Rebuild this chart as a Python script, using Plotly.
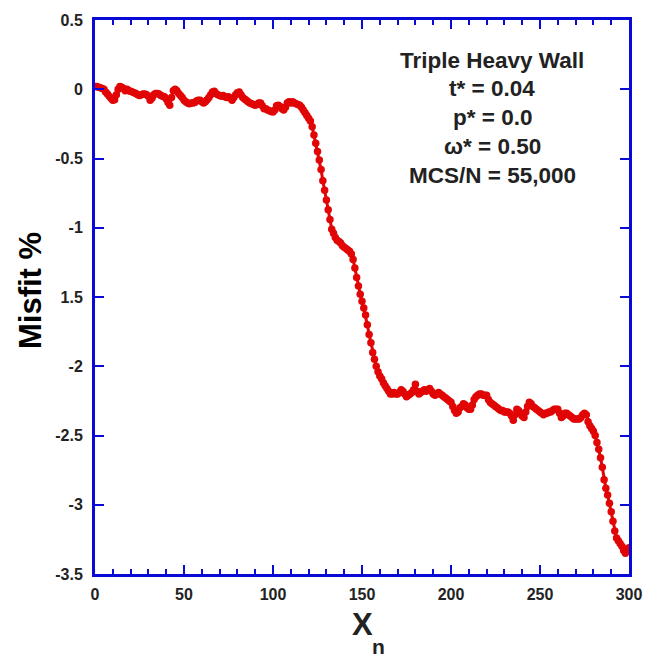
import plotly.graph_objects as go

# Data (x = 0..300 step 1)
x_values = list(range(0, 301))
misfit = [
    0.02, 0.02, 0.015, 0.01, 0.005, 0.0, -0.02, -0.035, -0.05, -0.065,
    -0.08, -0.075, -0.04, 0.0, 0.02, 0.015, 0.005, -0.01, 0.0, -0.01,
    -0.015, -0.02, -0.025, -0.03, -0.04, -0.045, -0.04, -0.035, -0.035, -0.04,
    -0.05, -0.08, -0.065, -0.04, -0.03, -0.03, -0.035, -0.045, -0.05, -0.055,
    -0.07, -0.095, -0.115, -0.06, -0.01, 0.0, -0.01, -0.03, -0.045, -0.06,
    -0.08, -0.09, -0.1, -0.105, -0.1, -0.1, -0.095, -0.085, -0.08, -0.08,
    -0.09, -0.1, -0.09, -0.075, -0.06, -0.04, -0.02, -0.015, -0.03, -0.04,
    -0.045, -0.05, -0.045, -0.055, -0.06, -0.055, -0.065, -0.08, -0.06, -0.04,
    -0.025, -0.02, -0.04, -0.06, -0.07, -0.08, -0.09, -0.1, -0.105, -0.11,
    -0.115, -0.11, -0.1, -0.1, -0.12, -0.14, -0.14, -0.15, -0.155, -0.16,
    -0.165, -0.15, -0.12, -0.115, -0.125, -0.14, -0.15, -0.13, -0.1, -0.09,
    -0.1, -0.09, -0.1, -0.105, -0.11, -0.115, -0.13, -0.15, -0.17, -0.19,
    -0.21, -0.23, -0.27, -0.33, -0.39, -0.45, -0.51, -0.58, -0.66, -0.73,
    -0.8, -0.87, -0.94, -1.01, -1.04, -1.07, -1.09, -1.1, -1.11, -1.13,
    -1.14, -1.15, -1.16, -1.17, -1.19, -1.23, -1.29, -1.36, -1.42, -1.48,
    -1.53, -1.58, -1.63, -1.70, -1.77, -1.83, -1.90, -1.95, -2.0, -2.04,
    -2.07, -2.09, -2.12, -2.14, -2.16, -2.18, -2.2, -2.2, -2.19, -2.2,
    -2.2, -2.19, -2.17, -2.18, -2.2, -2.22, -2.21, -2.2, -2.19, -2.17,
    -2.13, -2.18, -2.2, -2.19, -2.18, -2.17, -2.18, -2.17, -2.16, -2.18,
    -2.2, -2.21, -2.2, -2.19, -2.2, -2.21, -2.22, -2.23, -2.24, -2.25,
    -2.26, -2.29, -2.32, -2.34, -2.33, -2.3, -2.29, -2.27, -2.28, -2.3,
    -2.31, -2.31, -2.28, -2.24, -2.22, -2.21, -2.2, -2.2, -2.21, -2.21,
    -2.21, -2.24, -2.26, -2.27, -2.28, -2.29, -2.3, -2.31, -2.32, -2.32,
    -2.33, -2.33, -2.33, -2.34, -2.36, -2.39, -2.35, -2.31, -2.32, -2.34,
    -2.36, -2.37, -2.33, -2.29, -2.26, -2.27, -2.29, -2.3, -2.31, -2.32,
    -2.33, -2.34, -2.35, -2.34, -2.34, -2.33, -2.33, -2.32, -2.31, -2.31,
    -2.31, -2.34, -2.37, -2.36, -2.34, -2.34, -2.35, -2.36, -2.37, -2.38,
    -2.38, -2.38, -2.38, -2.37, -2.35, -2.34, -2.35, -2.4, -2.43, -2.45,
    -2.47, -2.5, -2.55, -2.6, -2.66, -2.73, -2.82, -2.88, -2.93, -2.99,
    -3.05, -3.12, -3.19, -3.24, -3.26, -3.28, -3.3, -3.33, -3.35, -3.32,
    -3.31,
]

x_tick_vals = [0, 50, 100, 150, 200, 250, 300]
x_tick_text = ["0", "50", "100", "150", "200", "250", "300"]
y_tick_vals = [0.5, 0, -0.5, -1, -1.5, -2, -2.5, -3, -3.5]
y_tick_text = ["0.5", "0", "-0.5", "-1", "1.5", "-2", "-2.5", "-3", "-3.5"]

info_lines = ["Triple Heavy Wall", "t* = 0.04", "p* = 0.0", "\u03c9* = 0.50", "MCS/N = 55,000"]

AXIS_BLUE = "rgb(10,10,215)"
RED = "rgb(225,5,5)"
TXT = "#222222"
FONT = "Liberation Sans, Arial, sans-serif"

fig = go.Figure()
fig.add_trace(go.Scatter(
    x=x_values, y=misfit, mode="lines+markers",
    line=dict(color=RED, width=3),
    marker=dict(color=RED, size=7.5),
    showlegend=False,
))

fig.update_layout(
    width=656, height=658,
    margin=dict(l=95, r=27, t=16, b=84),
    paper_bgcolor="white", plot_bgcolor="white",
    font=dict(family=FONT, color=TXT),
)

fig.update_xaxes(
    range=[0, 300], showgrid=False, zeroline=False,
    showline=True, linecolor=AXIS_BLUE, linewidth=3, mirror="allticks",
    ticks="inside", ticklen=9, tickwidth=1.5, tickcolor=AXIS_BLUE,
    tickvals=x_tick_vals, ticktext=x_tick_text,
    tickfont=dict(family=FONT, size=16, color=TXT, weight="bold"),
    ticklabelstandoff=4,
    minor=dict(dtick=10, tick0=0, ticks="inside", ticklen=5, tickwidth=1.5,
               tickcolor=AXIS_BLUE, showgrid=False),
)
fig.update_yaxes(
    range=[-3.5, 0.5], showgrid=False, zeroline=False,
    showline=True, linecolor=AXIS_BLUE, linewidth=3, mirror="allticks",
    ticks="inside", ticklen=9, tickwidth=1.5, tickcolor=AXIS_BLUE,
    tickvals=y_tick_vals, ticktext=y_tick_text,
    tickfont=dict(family=FONT, size=16, color=TXT, weight="bold"),
    ticklabelstandoff=6,
)

# Info text block
line_ys = [57, 85, 114, 143, 173]
for txt, py in zip(info_lines, line_ys):
    fig.add_annotation(
        text="<b>" + txt + "</b>", xref="paper", yref="paper",
        x=(492 - 95) / 534, y=(574 - py) / 558, showarrow=False,
        xanchor="center", yanchor="middle",
        font=dict(family=FONT, size=22.5, color=TXT),
    )

# Axis titles
fig.add_annotation(
    text="<b>Misfit %</b>", xref="paper", yref="paper",
    x=(30 - 95) / 534, y=(574 - 289) / 558, showarrow=False,
    textangle=-90, xanchor="center", yanchor="middle",
    font=dict(family=FONT, size=31, color="black"),
)
fig.add_annotation(
    text="<b>X</b>", xref="paper", yref="paper",
    x=(362 - 95) / 534, y=(574 - 625) / 558, showarrow=False,
    xanchor="center", yanchor="middle",
    font=dict(family=FONT, size=31, color=TXT),
)
fig.add_annotation(
    text="<b>n</b>", xref="paper", yref="paper",
    x=(378 - 95) / 534, y=(574 - 647) / 558, showarrow=False,
    xanchor="center", yanchor="middle",
    font=dict(family=FONT, size=21, color=TXT),
)

fig.write_html("out.html")
